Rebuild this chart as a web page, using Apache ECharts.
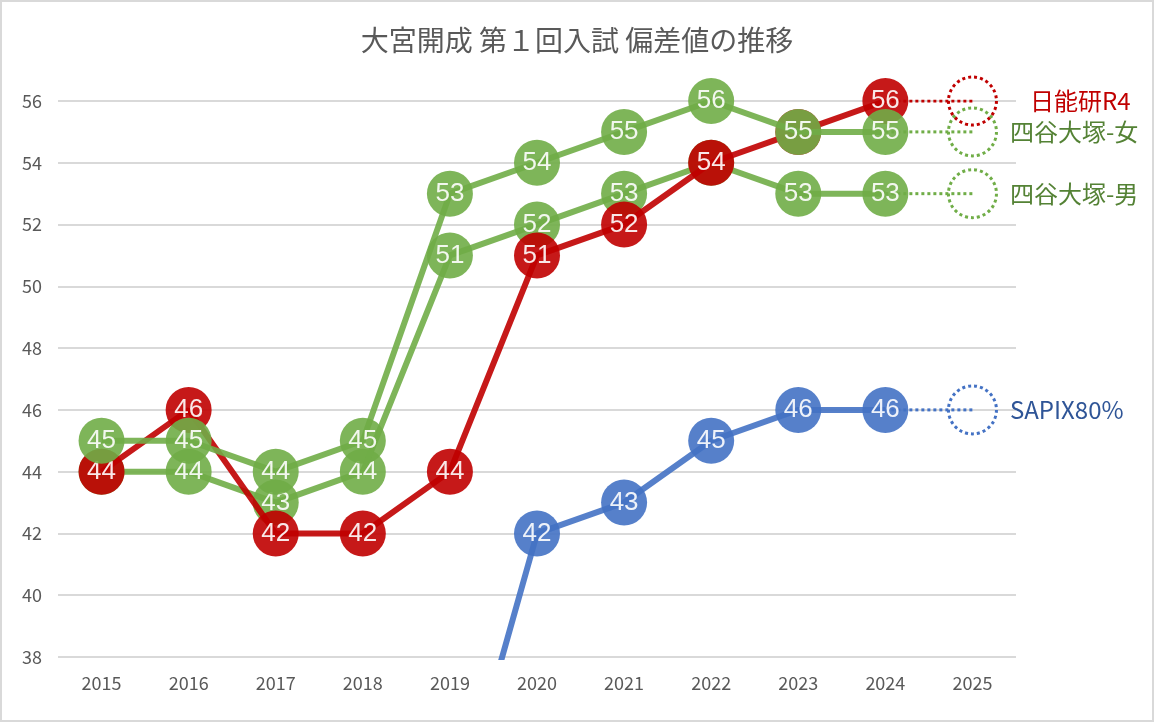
<!DOCTYPE html>
<html>
<head>
<meta charset="utf-8">
<script src="https://cdn.jsdelivr.net/npm/echarts@6/dist/echarts.min.js"></script>
<style>
html, body { margin: 0; padding: 0; background: #fff; }
#chart { width: 1150px; height: 718px; border: 2px solid #d9d9d9; }
</style>
</head>
<body>
<div id="chart"></div>
<script>
var years = ["2015", "2016", "2017", "2018", "2019", "2020", "2021", "2022", "2023", "2024", "2025"];
var nichinoken = [44, 46, 42, 42, 44, 51, 52, 54, 55, 56];
var yotsuyaGirls = [45, 45, 44, 45, 53, 54, 55, 56, 55, 55];
var yotsuyaBoys = [44, 44, 43, 44, 51, 52, 53, 54, 53, 53];
var sapix = [null, null, null, null, 32, 42, 43, 45, 46, 46];

var chart = echarts.init(document.getElementById("chart"));
var fontFamily = '"Noto Sans CJK JP", "Noto Sans", sans-serif';

function mainSeries(name, values, color, z) {
	return {
		name: name,
		type: "line",
		data: values.concat([null]),
		z: z,
		clip: true,
		symbol: "circle",
		symbolSize: 46,
		lineStyle: { color: color, width: 6, opacity: 0.9 },
		itemStyle: { color: color, opacity: 0.9 },
		label: {
			show: true,
			position: "inside",
			color: "#fff",
			fontSize: 26,
			fontFamily: '"Liberation Sans", Arial, sans-serif'
		},
		emphasis: { disabled: true },
		animation: false
	};
}

function nextYear(name, values, color, textColor, distance, z) {
	var last = values[values.length - 1];
	var data = [];
	for (var i = 0; i < values.length - 1; i++) data.push(null);
	data.push({ value: last, symbol: "none" });
	data.push({
		value: last,
		symbol: "circle",
		label: {
			show: true,
			position: "right",
			distance: distance,
			formatter: name,
			color: textColor,
			fontSize: 24,
			fontFamily: fontFamily
		}
	});
	return {
		name: name + "-next",
		type: "line",
		data: data,
		z: z,
		symbolSize: 48,
		lineStyle: { color: color, width: 3, type: "dotted" },
		itemStyle: {
			color: "rgba(0,0,0,0)",
			borderColor: color,
			borderWidth: 3,
			borderType: "dotted"
		},
		emphasis: { disabled: true },
		animation: false
	};
}

chart.setOption({
	title: {
		text: "大宮開成 第１回入試 偏差値の推移",
		left: "center",
		top: 19,
		textStyle: { color: "#595959", fontSize: 28, fontWeight: "normal", fontFamily: fontFamily }
	},
	grid: { left: 56, right: 136, top: 99, bottom: 63 },
	xAxis: {
		type: "category",
		data: years,
		boundaryGap: true,
		axisLine: { show: false },
		axisTick: { show: false },
		axisLabel: { color: "#595959", fontSize: 18, margin: 17, fontFamily: fontFamily }
	},
	yAxis: {
		type: "value",
		min: 38,
		max: 56,
		interval: 2,
		axisLine: { show: false },
		axisTick: { show: false },
		axisLabel: { color: "#595959", fontSize: 18, margin: 16, fontFamily: fontFamily },
		splitLine: { lineStyle: { color: "#d9d9d9", width: 2 } }
	},
	series: [
		nextYear("四谷大塚-男", yotsuyaBoys, "#70ad47", "#548235", 12, 1),
		nextYear("日能研R4", nichinoken, "#c00000", "#c00000", 32, 1),
		nextYear("四谷大塚-女", yotsuyaGirls, "#70ad47", "#548235", 12, 1),
		nextYear("SAPIX80%", sapix, "#4472c4", "#2f5597", 12, 1),
		mainSeries("四谷大塚-男", yotsuyaBoys, "#70ad47", 2),
		mainSeries("日能研R4", nichinoken, "#c00000", 3),
		mainSeries("四谷大塚-女", yotsuyaGirls, "#70ad47", 4),
		mainSeries("SAPIX80%", sapix, "#4472c4", 2)
	]
});
</script>
</body>
</html>
